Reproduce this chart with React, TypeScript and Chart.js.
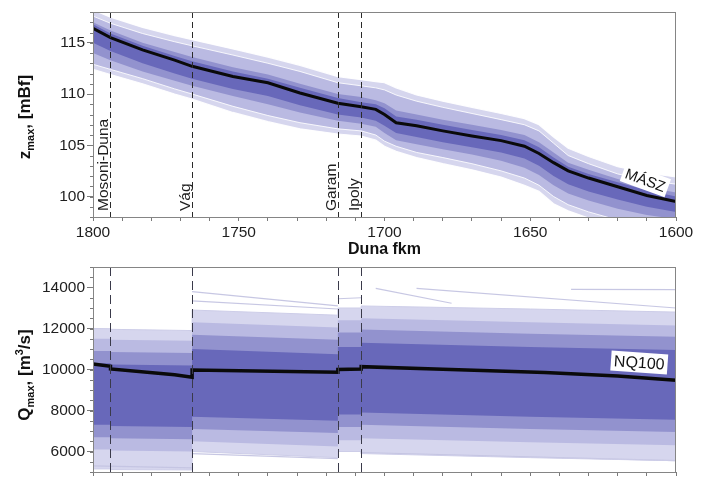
import React, { useEffect, useRef } from 'react';
import { Chart, registerables } from 'chart.js';

Chart.register(...registerables);

const FONT = '"Liberation Sans", Arial, Helvetica, sans-serif';

// ---------- axes / ticks ----------
const kmTicks = [1800, 1790, 1780, 1770, 1760, 1750, 1740, 1730, 1720, 1710, 1700, 1690, 1680, 1670, 1660, 1650, 1640, 1630, 1620, 1610, 1600];
const zTicks = [100, 105, 110, 115];
const qTicks = [6000, 8000, 10000, 12000, 14000];

// ---------- tributaries ----------
const tribNames = ['Mosoni-Duna', 'Vág', 'Garam', 'Ipoly'];
const tribKm = [1794, 1766, 1716, 1708];

// ---------- top panel: water levels ----------
const zKm = [1800, 1794, 1783, 1772, 1766, 1752, 1740, 1729, 1716, 1708, 1703, 1700, 1696, 1689, 1680, 1670, 1660, 1652, 1647, 1642, 1637, 1630, 1620, 1610, 1600];
const zMasz = [116.4, 115.5, 114.3, 113.3, 112.7, 111.7, 111.1, 110.1, 109.1, 108.75, 108.5, 108.0, 107.2, 106.9, 106.4, 105.9, 105.45, 104.9, 104.2, 103.3, 102.5, 101.8, 100.95, 100.1, 99.5];
const zEnvMax = [118.2, 117.5, 116.5, 115.7, 115.3, 114.4, 113.6, 112.8, 111.7, 111.4, 111.2, 111.1, 110.6, 109.9, 109.3, 108.7, 108.1, 107.6, 107.0, 105.8, 104.7, 103.9, 102.9, 102.3, 101.9];
const z90 = [117.6, 116.9, 115.9, 115.1, 114.7, 113.8, 113.0, 112.2, 111.1, 110.8, 110.6, 110.4, 109.9, 109.3, 108.7, 108.1, 107.5, 107.0, 106.4, 105.2, 104.0, 103.2, 102.2, 101.6, 101.2];
const z75 = [117.0, 116.2, 115.0, 114.1, 113.6, 112.6, 111.9, 111.0, 110.0, 109.7, 109.4, 109.1, 108.4, 108.0, 107.5, 107.0, 106.5, 106.0, 105.3, 104.3, 103.3, 102.6, 101.7, 100.9, 100.4];
const z60 = [116.8, 115.9, 114.7, 113.7, 113.2, 112.2, 111.5, 110.6, 109.6, 109.2, 109.0, 108.6, 107.8, 107.5, 107.0, 106.5, 106.0, 105.5, 104.8, 103.8, 102.9, 102.2, 101.4, 100.6, 100.0];
const z40 = [115.0, 114.2, 113.0, 112.0, 111.5, 110.5, 109.8, 108.9, 108.0, 107.7, 107.4, 106.9, 106.2, 105.8, 105.3, 104.8, 104.3, 103.7, 103.0, 102.0, 101.2, 100.5, 99.7, 99.0, 98.5];
const z25 = [114.0, 113.3, 112.2, 111.3, 110.8, 109.8, 109.0, 108.2, 107.4, 107.1, 106.8, 106.2, 105.5, 105.1, 104.6, 104.1, 103.5, 102.8, 102.1, 101.1, 100.3, 99.6, 98.8, 98.2, 97.8];
const z10 = [112.9, 112.4, 111.5, 110.5, 110.0, 108.8, 107.9, 107.2, 106.6, 106.4, 106.0, 105.4, 104.9, 104.3, 103.8, 103.2, 102.5, 101.8, 101.1, 100.0, 99.2, 98.5, 97.7, 97.2, 96.7];
const zEnvMin = [112.4, 111.9, 111.0, 110.0, 109.5, 108.2, 107.3, 106.6, 106.1, 105.9, 105.5, 104.9, 104.4, 103.8, 103.2, 102.6, 101.9, 101.1, 100.5, 99.3, 98.6, 97.9, 97.1, 96.6, 96.1];

// ---------- bottom panel: discharges ----------
const qKm = [1800, 1794, 1794, 1766, 1766, 1716, 1716, 1708, 1708, 1650, 1600];
const qEnvMax = [12000, 11990, 11960, 11900, 12900, 12650, 13000, 13000, 13100, 12950, 12800];
const q95 = [11500, 11500, 11450, 11400, 12300, 12050, 12400, 12400, 12500, 12300, 12150];
const q85 = [10900, 10900, 10850, 10800, 11700, 11450, 11800, 11800, 11950, 11750, 11600];
const q70 = [10300, 10300, 10250, 10200, 11000, 10750, 11100, 11100, 11300, 11100, 10950];
const q30 = [7300, 7300, 7250, 7200, 7700, 7500, 7800, 7800, 7900, 7700, 7550];
const q15 = [6700, 6700, 6650, 6600, 7100, 6900, 7200, 7200, 7300, 7100, 6950];
const q5 = [6100, 6100, 6050, 6000, 6500, 6250, 6550, 6550, 6650, 6450, 6300];
const qEnvMin = [5150, 5150, 5120, 5100, 6000, 5700, 6000, 6000, 5900, 5700, 5550];

const nqKm = [1800, 1794, 1794, 1772, 1766, 1766, 1716, 1716, 1708, 1708, 1680, 1645, 1620, 1600];
const nq100 = [10270, 10160, 10030, 9740, 9620, 9970, 9870, 10000, 10020, 10140, 10010, 9850, 9680, 9470];

// a few separately visible ensemble members
const outKm = [
  [1766, 1716], [1766, 1716], [1716, 1708], [1703, 1677], [1689, 1600], [1636, 1600],
  [1800, 1766], [1766, 1716], [1708, 1600],
];
const outQ = [
  [13800, 13100], [13350, 12950], [13450, 13500], [13960, 13230], [13960, 13000], [13910, 13900],
  [5300, 5200], [5900, 5650], [5950, 5550],
];

const xy = (xs: number[], ys: number[]) => xs.map((x, i) => ({ x, y: ys[i] }));

const line = (data: any, color: string, width: number, fill: any = false, bg = 'transparent') => ({
  data,
  borderColor: width > 0 ? color : 'transparent',
  borderWidth: width,
  backgroundColor: bg,
  fill,
  pointRadius: 0,
  tension: 0,
});

const C_CORE = 'rgb(104,104,186)';
const C_MED = 'rgb(146,146,206)';
const C_LIGHT = 'rgb(186,186,226)';
const C_LIGHTEST = 'rgb(214,214,238)';

function xScale(labels: boolean, height: number) {
  return {
    type: 'linear',
    reverse: true,
    min: 1600,
    max: 1800,
    afterBuildTicks: (s: any) => { s.ticks = kmTicks.map((v) => ({ value: v })); },
    afterFit: (s: any) => {
      s.height = height;
      s.paddingLeft = 0; s.paddingRight = 0; s.paddingTop = 0; s.paddingBottom = 0;
    },
    ticks: {
      autoSkip: false, maxRotation: 0, minRotation: 0, padding: 2, color: '#1e1e1e',
      font: { family: FONT, size: 15.5 },
      callback: (v: any) => (labels && Number(v) % 50 === 0 ? String(v) : ''),
    },
    grid: { display: true, drawOnChartArea: false, drawTicks: true, tickLength: 4, tickColor: '#7a7a7a', tickWidth: 1 },
    border: { display: false },
  };
}

function yScale(min: number, max: number, ticks: number[]) {
  return {
    type: 'linear',
    min, max,
    afterBuildTicks: (s: any) => { s.ticks = ticks.map((v) => ({ value: v })); },
    afterFit: (s: any) => {
      s.width = 93;
      s.paddingLeft = 0; s.paddingRight = 0; s.paddingTop = 0; s.paddingBottom = 0;
    },
    ticks: { padding: 2, color: '#1e1e1e', font: { family: FONT, size: 15.5 }, callback: (v: any) => String(v) },
    grid: { display: true, drawOnChartArea: false, drawTicks: true, tickLength: 6, tickColor: '#7a7a7a', tickWidth: 1 },
    border: { display: false },
  };
}

type Part = { t: string; size: number; dy: number };

function decorPlugin(opts: {
  id: string;
  minorStep: number;
  yTitle: Part[];
  yTitleY: number;
  tribLabels: boolean;
  dash: number[];
  dashColor: string;
  tag: { text: string; km: number; v: number; angle: number; size: number };
  xTitle?: string;
}) {
  return {
    id: opts.id,
    afterDatasetsDraw(chart: any) {
      const { ctx, chartArea: a, scales } = chart;
      const xs = scales.x, ys = scales.y;
      ctx.save();
      // tributary dashed lines
      ctx.strokeStyle = opts.dashColor;
      ctx.lineWidth = 1;
      ctx.setLineDash(opts.dash);
      tribKm.forEach((km) => {
        const px = Math.round(xs.getPixelForValue(km)) + 0.5;
        ctx.beginPath();
        ctx.moveTo(px, a.top);
        ctx.lineTo(px, a.bottom);
        ctx.stroke();
      });
      ctx.setLineDash([]);
      if (opts.tribLabels) {
        ctx.fillStyle = '#1e1e1e';
        ctx.font = `15.5px ${FONT}`;
        ctx.textAlign = 'left';
        ctx.textBaseline = 'alphabetic';
        tribKm.forEach((km, i) => {
          const px = xs.getPixelForValue(km);
          ctx.save();
          ctx.translate(px - 2, a.bottom - 6);
          ctx.rotate(-Math.PI / 2);
          ctx.fillText(tribNames[i], 0, 0);
          ctx.restore();
        });
      }
      // label box
      const tg = opts.tag;
      const tx = xs.getPixelForValue(tg.km);
      const ty = ys.getPixelForValue(tg.v);
      ctx.save();
      ctx.translate(tx, ty);
      ctx.rotate((tg.angle * Math.PI) / 180);
      ctx.font = `${tg.size}px ${FONT}`;
      const w = ctx.measureText(tg.text).width;
      ctx.fillStyle = '#ffffff';
      ctx.fillRect(-w / 2 - 3, -tg.size / 2 - 2, w + 6, tg.size + 4);
      ctx.fillStyle = '#111';
      ctx.textAlign = 'center';
      ctx.textBaseline = 'middle';
      ctx.fillText(tg.text, 0, 1);
      ctx.restore();
      ctx.restore();
    },
    afterDraw(chart: any) {
      const { ctx, chartArea: a, scales } = chart;
      const ys = scales.y;
      ctx.save();
      // frame
      ctx.strokeStyle = '#858585';
      ctx.lineWidth = 1;
      ctx.strokeRect(Math.round(a.left) + 0.5, Math.round(a.top) + 0.5, Math.round(a.right - a.left) - 1, Math.round(a.bottom - a.top));
      // minor y ticks
      ctx.strokeStyle = '#7a7a7a';
      for (let v = ys.min; v <= ys.max + 1e-9; v += opts.minorStep) {
        const py = Math.round(ys.getPixelForValue(v)) + 0.5;
        ctx.beginPath();
        ctx.moveTo(a.left - 3, py);
        ctx.lineTo(a.left, py);
        ctx.stroke();
      }
      // y title with subscript
      ctx.fillStyle = '#111';
      ctx.textBaseline = 'alphabetic';
      ctx.textAlign = 'left';
      let total = 0;
      opts.yTitle.forEach((p) => { ctx.font = `bold ${p.size}px ${FONT}`; total += ctx.measureText(p.t).width; });
      ctx.translate(30, opts.yTitleY);
      ctx.rotate(-Math.PI / 2);
      let cx = -total / 2;
      opts.yTitle.forEach((p) => {
        ctx.font = `bold ${p.size}px ${FONT}`;
        ctx.fillText(p.t, cx, p.dy);
        cx += ctx.measureText(p.t).width;
      });
      ctx.restore();
      if (opts.xTitle) {
        ctx.save();
        ctx.fillStyle = '#111';
        ctx.font = `bold 16px ${FONT}`;
        ctx.textAlign = 'center';
        ctx.textBaseline = 'middle';
        ctx.fillText(opts.xTitle, (a.left + a.right) / 2, 250);
        ctx.restore();
      }
    },
  };
}

function topConfig(): any {
  return {
    type: 'line',
    data: {
      datasets: [
        line(xy(zKm, zMasz), '#0a0a0a', 3),
        line(xy(zKm, z60), C_CORE, 0, 2, C_CORE),
        line(xy(zKm, z40), C_CORE, 0),
        line(xy(zKm, z75), C_MED, 0, 4, C_MED),
        line(xy(zKm, z25), C_MED, 0),
        line(xy(zKm, z90), 'rgba(255,255,255,0.85)', 1, 6, C_LIGHT),
        line(xy(zKm, z10), 'rgba(255,255,255,0.85)', 1),
        line(xy(zKm, zEnvMax), 'rgba(255,255,255,0.95)', 1.2, 8, C_LIGHTEST),
        line(xy(zKm, zEnvMin), 'rgba(255,255,255,0.95)', 1.2),
      ],
    },
    options: {
      responsive: false,
      animation: false,
      devicePixelRatio: 1,
      layout: { padding: { left: 0, right: 36, top: 12, bottom: 0 } },
      plugins: { legend: { display: false }, tooltip: { enabled: false }, filler: { drawTime: 'beforeDatasetsDraw' } },
      scales: { x: xScale(true, 45), y: yScale(98, 118, zTicks) },
    },
    plugins: [
      decorPlugin({
        id: 'decorTop',
        minorStep: 1,
        yTitle: [
          { t: 'z', size: 17, dy: 0 },
          { t: 'max', size: 11, dy: 4 },
          { t: ', [mBf]', size: 17, dy: 0 },
        ],
        yTitleY: 117,
        tribLabels: true,
        dash: [6, 4],
        dashColor: '#2a2a2a',
        tag: { text: 'MÁSZ', km: 1610.5, v: 101.6, angle: 20, size: 15 },
        xTitle: 'Duna fkm',
      }),
    ],
  };
}

function bottomConfig(): any {
  const outliers = outKm.map((k, i) => line(xy(k, outQ[i]), 'rgba(196,196,226,0.95)', 1.2));
  return {
    type: 'line',
    data: {
      datasets: [
        line(xy(nqKm, nq100), '#0a0a0a', 3.5),
        line(xy(qKm, q70), C_CORE, 0, 2, C_CORE),
        line(xy(qKm, q30), C_CORE, 0),
        line(xy(qKm, q85), C_MED, 0, 4, C_MED),
        line(xy(qKm, q15), C_MED, 0),
        line(xy(qKm, q95), C_LIGHT, 0, 6, C_LIGHT),
        line(xy(qKm, q5), C_LIGHT, 0),
        line(xy(qKm, qEnvMax), 'rgba(205,205,232,1)', 1, 8, C_LIGHTEST),
        line(xy(qKm, qEnvMin), 'rgba(205,205,232,1)', 1),
        ...outliers,
      ],
    },
    options: {
      responsive: false,
      animation: false,
      devicePixelRatio: 1,
      layout: { padding: { left: 0, right: 36, top: 5, bottom: 0 } },
      plugins: { legend: { display: false }, tooltip: { enabled: false }, filler: { drawTime: 'beforeDatasetsDraw' } },
      scales: { x: xScale(false, 12), y: yScale(5000, 15000, qTicks) },
    },
    plugins: [
      decorPlugin({
        id: 'decorBottom',
        minorStep: 500,
        yTitle: [
          { t: 'Q', size: 17, dy: 0 },
          { t: 'max', size: 11, dy: 4 },
          { t: ', [m', size: 17, dy: 0 },
          { t: '3', size: 11, dy: -7 },
          { t: '/s]', size: 17, dy: 0 },
        ],
        yTitleY: 113,
        tribLabels: false,
        dash: [9, 5],
        dashColor: '#3a3a4a',
        tag: { text: 'NQ100', km: 1612.6, v: 10340, angle: 4, size: 16 },
      }),
    ],
  };
}

export default function App() {
  const topRef = useRef<HTMLCanvasElement>(null);
  const botRef = useRef<HTMLCanvasElement>(null);
  useEffect(() => {
    document.body.style.margin = '0';
    const c1 = new Chart(topRef.current as HTMLCanvasElement, topConfig());
    const c2 = new Chart(botRef.current as HTMLCanvasElement, bottomConfig());
    return () => {
      c1.destroy();
      c2.destroy();
    };
  }, []);
  return (
    <div style={{ position: 'absolute', left: 0, top: 0, width: 712, height: 484, background: '#ffffff' }}>
      <canvas ref={topRef} width={712} height={262} style={{ position: 'absolute', left: 0, top: 0, width: 712, height: 262 }} />
      <canvas ref={botRef} width={712} height={222} style={{ position: 'absolute', left: 0, top: 262, width: 712, height: 222 }} />
    </div>
  );
}
